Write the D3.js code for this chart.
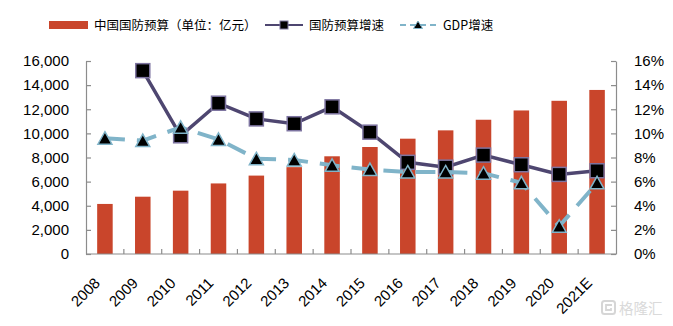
<!DOCTYPE html>
<html>
<head>
<meta charset="utf-8">
<script src="https://cdn.jsdelivr.net/npm/d3@7"></script>
<style>
  body { margin: 0; background: #fff; }
  svg { display: block; font-family: "Liberation Sans", Arial, sans-serif; }
</style>
</head>
<body>
<svg id="chart" width="673" height="326"></svg>
<script>
// years on the category axis
var years = ["2008", "2009", "2010", "2011", "2012", "2013", "2014",
             "2015", "2016", "2017", "2018", "2019", "2020", "2021E"];
// defence budget, 100m yuan
var budget = [4150, 4750, 5250, 5850, 6500, 7200, 8100,
              8870, 9560, 10250, 11130, 11900, 12700, 13600];
// budget growth, %
var budgetGrowth = [null, 15.2, 9.8, 12.5, 11.2, 10.8, 12.2,
                    10.1, 7.6, 7.2, 8.2, 7.4, 6.6, 6.9];
// GDP growth, %
var gdpGrowth = [9.6, 9.4, 10.5, 9.5, 7.9, 7.8, 7.35,
                 7.0, 6.8, 6.8, 6.7, 5.9, 2.3, 5.9];
var leftTicks = [0, 2000, 4000, 6000, 8000, 10000, 12000, 14000, 16000];
var rightTicks = [0, 2, 4, 6, 8, 10, 12, 14, 16];

var barColor = "#c9452b";
var budgetLineColor = "#4e4670";
var gdpColor = "#80b4c9";

var svg = d3.select("#chart");

var xScaled = d3.scaleBand()
    .domain(years)
    .range([86, 616]);

var yLeft = d3.scaleLinear()
    .domain([0, 16000])
    .range([254, 61]);

var yRight = d3.scaleLinear()
    .domain([0, 16])
    .range([254, 61]);

var cx = function(i) { return xScaled(years[i]) + xScaled.bandwidth() / 2; };

// bars
var barW = xScaled.bandwidth() * 0.41;
svg.append("g")
    .selectAll("rect")
    .data(budget)
    .enter()
    .append("rect")
    .attr("x", function(d, i) { return cx(i) - barW / 2; })
    .attr("y", function(d) { return yLeft(d); })
    .attr("width", barW)
    .attr("height", function(d) { return yLeft(0) - yLeft(d); })
    .attr("fill", barColor);

// axes
var styleAxis = function(g) {
    g.select(".domain").attr("stroke", "#8c8c8c").attr("stroke-width", 1.2);
    g.selectAll(".tick line").attr("stroke", "#8c8c8c").attr("stroke-width", 1.2);
    g.selectAll(".tick text").attr("fill", "#000").style("font-size", "15px");
};

svg.append("g")
    .attr("transform", "translate(86,0)")
    .call(d3.axisLeft(yLeft).tickValues(leftTicks).tickSize(-5).tickSizeOuter(0)
        .tickPadding(17).tickFormat(d3.format(",")))
    .call(styleAxis);

svg.append("g")
    .attr("transform", "translate(616,0)")
    .call(d3.axisRight(yRight).tickValues(rightTicks).tickSize(-5).tickSizeOuter(0)
        .tickPadding(18).tickFormat(function(d) { return d + "%"; }))
    .call(styleAxis);

// category axis: baseline, ticks between bars, rotated labels
var xAxis = svg.append("g");
xAxis.append("line")
    .attr("x1", xScaled.range()[0])
    .attr("x2", xScaled.range()[1])
    .attr("y1", yLeft(0))
    .attr("y2", yLeft(0))
    .attr("stroke", "#8c8c8c")
    .attr("stroke-width", 1.2);
xAxis.selectAll(".xtick")
    .data(years.slice(1))
    .enter()
    .append("line")
    .attr("x1", function(d) { return xScaled(d); })
    .attr("x2", function(d) { return xScaled(d); })
    .attr("y1", yLeft(0))
    .attr("y2", yLeft(0) - 5)
    .attr("stroke", "#8c8c8c")
    .attr("stroke-width", 1.2);
xAxis.selectAll("text")
    .data(years)
    .enter()
    .append("text")
    .attr("transform", function(d, i) { return "translate(" + (cx(i) - 4) + ",284) rotate(-45)"; })
    .attr("text-anchor", "end")
    .style("font-size", "15px")
    .text(function(d) { return d; });

// budget growth line with square markers
var idx = d3.range(years.length);
var budgetLine = d3.line()
    .defined(function(i) { return budgetGrowth[i] != null; })
    .x(function(i) { return cx(i); })
    .y(function(i) { return yRight(budgetGrowth[i]); });

svg.append("path")
    .datum(idx)
    .attr("d", budgetLine)
    .attr("fill", "none")
    .attr("stroke", budgetLineColor)
    .attr("stroke-width", 3.5);

svg.append("g")
    .selectAll("rect")
    .data(idx.filter(function(i) { return budgetGrowth[i] != null; }))
    .enter()
    .append("rect")
    .attr("x", function(i) { return cx(i) - 7; })
    .attr("y", function(i) { return yRight(budgetGrowth[i]) - 7; })
    .attr("width", 14)
    .attr("height", 14)
    .attr("fill", "#000")
    .attr("stroke", "#7d74a0")
    .attr("stroke-width", 1.5);

// GDP growth dashed line with triangle markers
var gdpLine = d3.line()
    .x(function(i) { return cx(i); })
    .y(function(i) { return yRight(gdpGrowth[i]); });

svg.append("path")
    .datum(idx)
    .attr("d", gdpLine)
    .attr("fill", "none")
    .attr("stroke", gdpColor)
    .attr("stroke-width", 4)
    .attr("stroke-dasharray", "20,12");

var triangle = "M0,-6.5L7,6L-7,6Z";
svg.append("g")
    .selectAll("path")
    .data(idx)
    .enter()
    .append("path")
    .attr("d", triangle)
    .attr("transform", function(i) { return "translate(" + cx(i) + "," + yRight(gdpGrowth[i]) + ")"; })
    .attr("fill", "#000")
    .attr("stroke", gdpColor)
    .attr("stroke-width", 1.5);

// legend
var legend = svg.append("g").style("font-family", "'Noto Sans CJK SC', 'Liberation Sans', sans-serif")
    .style("font-size", "12.5px");

legend.append("rect")
    .attr("x", 49).attr("y", 21).attr("width", 39).attr("height", 8)
    .attr("fill", barColor);
legend.append("text")
    .attr("x", 94).attr("y", 30)
    .text("中国国防预算（单位：亿元）");

legend.append("line")
    .attr("x1", 265).attr("x2", 303).attr("y1", 25).attr("y2", 25)
    .attr("stroke", budgetLineColor).attr("stroke-width", 2);
legend.append("rect")
    .attr("x", 280).attr("y", 21).attr("width", 8).attr("height", 8)
    .attr("fill", "#000").attr("stroke", "#7d74a0");
legend.append("text")
    .attr("x", 309).attr("y", 30)
    .text("国防预算增速");

legend.append("line")
    .attr("x1", 400).attr("x2", 436).attr("y1", 25).attr("y2", 25)
    .attr("stroke", gdpColor).attr("stroke-width", 2)
    .attr("stroke-dasharray", "6,4");
legend.append("path")
    .attr("d", "M0,-4L4.5,3.5L-4.5,3.5Z")
    .attr("transform", "translate(418,25)")
    .attr("fill", "#000").attr("stroke", gdpColor);
legend.append("text")
    .attr("x", 443).attr("y", 30)
    .text("GDP增速");

// watermark
var mark = svg.append("g").attr("opacity", 0.9);
mark.append("rect")
    .attr("x", 602).attr("y", 301).attr("width", 13).attr("height", 13).attr("rx", 2.5)
    .attr("fill", "none").attr("stroke", "#d2d2d2").attr("stroke-width", 2);
mark.append("path")
    .attr("d", "M612,305H606V310H611V308")
    .attr("fill", "none").attr("stroke", "#d2d2d2").attr("stroke-width", 1.8);
mark.append("text")
    .attr("x", 619).attr("y", 314)
    .style("font-family", "'Noto Sans CJK SC', sans-serif")
    .style("font-size", "14.5px")
    .attr("fill", "#d6d6d6")
    .text("格隆汇");
</script>
</body>
</html>
